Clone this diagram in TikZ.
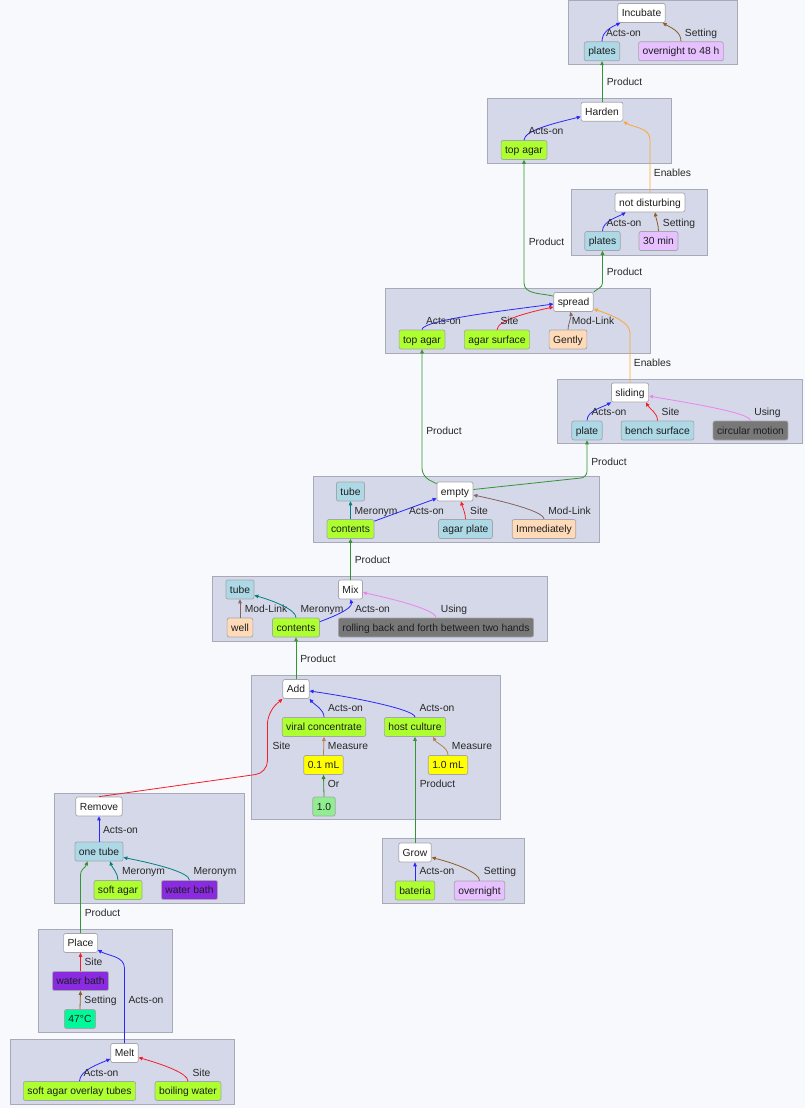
\documentclass[tikz,border=0pt]{standalone}
\usepackage{fontspec}
\setmainfont{Liberation Sans}
\usetikzlibrary{arrows.meta}
\definecolor{pagebg}{RGB}{248,249,252}
\definecolor{panfill}{RGB}{213,216,232}
\definecolor{panline}{RGB}{168,170,184}
\definecolor{nodeline}{RGB}{165,165,172}
\definecolor{lblc}{RGB}{40,40,40}
\definecolor{ntext}{RGB}{30,30,30}
\definecolor{cgy}{RGB}{173,255,47}
\definecolor{clb}{RGB}{173,216,230}
\definecolor{clav}{RGB}{230,192,255}
\definecolor{cpeach}{RGB}{255,218,185}
\definecolor{cdgray}{RGB}{120,120,120}
\definecolor{cyel}{RGB}{255,255,0}
\definecolor{clgr}{RGB}{144,238,144}
\definecolor{cviol}{RGB}{138,43,226}
\definecolor{cspring}{RGB}{0,250,154}
\definecolor{eacts}{RGB}{40,40,250}
\definecolor{esite}{RGB}{245,30,40}
\definecolor{eset}{RGB}{140,95,40}
\definecolor{eprod}{RGB}{50,150,50}
\definecolor{eenab}{RGB}{255,165,50}
\definecolor{emod}{RGB}{130,100,100}
\definecolor{emer}{RGB}{0,128,128}
\definecolor{euse}{RGB}{238,130,238}
\definecolor{emeas}{RGB}{180,130,80}
\definecolor{eor}{RGB}{40,140,40}
\newcommand{\nfont}{\fontsize{10.3}{12}\selectfont}
\tikzset{
  ent/.style={draw=nodeline, rounded corners=2pt, inner xsep=4pt, inner ysep=0pt, text=ntext,
              minimum height=19pt, text height=7.4pt, text depth=0pt, font=\nfont, line width=0.7pt},
  evt/.style={ent, fill=white},
  ygr/.style={ent, fill=cgy},
  lblue/.style={ent, fill=clb},
  lav/.style={ent, fill=clav},
  pch/.style={ent, fill=cpeach},
  dgr/.style={ent, fill=cdgray},
  yel/.style={ent, fill=cyel},
  lgr/.style={ent, fill=clgr},
  bvi/.style={ent, fill=cviol},
  spg/.style={ent, fill=cspring},
  pan/.style={draw=panline, fill=panfill, line width=0.8pt},
  rel/.style={-{Triangle[length=4pt,width=3.6pt]}, line width=0.8pt},
  actsarr/.style={rel, eacts},
  sitearr/.style={rel, esite},
  setarr/.style={rel, eset},
  prodarr/.style={rel, eprod},
  enarr/.style={rel, eenab},
  modarr/.style={rel, emod},
  merarr/.style={rel, emer},
  usearr/.style={rel, euse},
  measarr/.style={rel, emeas},
  orarr/.style={rel, eor},
  lbl/.style={font=\nfont, text=lblc, inner sep=0pt, text height=7.4pt, text depth=0pt},
}

\begin{document}
\begin{tikzpicture}[x=1pt, y=1pt]
    \fill[pagebg] (0,0) rectangle (805,-1108);
    \useasboundingbox (0,0) rectangle (805,-1108);
    % panels
    \draw[pan] (568,0) rectangle (737,-64);
    \draw[pan] (487,-98) rectangle (671,-163);
    \draw[pan] (571,-189) rectangle (707,-255);
    \draw[pan] (385,-288) rectangle (650,-353);
    \draw[pan] (557,-379) rectangle (802,-443);
    \draw[pan] (313,-476) rectangle (599,-542);
    \draw[pan] (212,-576) rectangle (547,-641);
    \draw[pan] (251,-675) rectangle (500,-819);
    \draw[pan] (382,-838) rectangle (524,-903);
    \draw[pan] (54,-793) rectangle (244,-903);
    \draw[pan] (38,-929) rectangle (172,-1032);
    \draw[pan] (10,-1039) rectangle (234,-1104);
    % nodes
    \node[evt] (incubate) at (641.5,-13) {Incubate};
    \node[lblue] (platesi) at (602,-51.3) {plates};
    \node[lav] (overnightl) at (681,-51.3) {overnight to 48 h};
    \node[evt] (harden) at (602,-111.7) {Harden};
    \node[ygr] (topagarh) at (524,-150) {top agar};
    \node[evt] (notdist) at (650,-202.5) {not disturbing};
    \node[lblue] (platesn) at (602.5,-241) {plates};
    \node[lav] (thirtymin) at (658.5,-241) {30 min};
    \node[evt] (spread) at (573.5,-302) {spread};
    \node[ygr] (topagars) at (422,-339.5) {top agar};
    \node[ygr] (agarsurf) at (497,-339.5) {agar surface};
    \node[pch] (gently) at (568,-339.5) {Gently};
    \node[evt] (sliding) at (630,-392.5) {sliding};
    \node[lblue] (plate) at (587,-430.5) {plate};
    \node[lblue] (bench) at (657.5,-430.5) {bench surface};
    \node[dgr] (circmot) at (750.5,-430.5) {circular motion};
    \node[evt] (empty) at (455,-491.5) {empty};
    \node[lblue] (tubee) at (350.5,-491.5) {tube};
    \node[ygr] (contentse) at (350.5,-529) {contents};
    \node[lblue] (agarplate) at (465.5,-529) {agar plate};
    \node[pch] (immed) at (544,-529) {Immediately};
    \node[evt] (mix) at (350.5,-589.5) {Mix};
    \node[lblue] (tubem) at (240,-589.5) {tube};
    \node[pch] (well) at (240,-627.5) {well};
    \node[ygr] (contentsm) at (296,-627.5) {contents};
    \node[dgr] (rolling) at (436,-627.5) {rolling back and forth between two hands};
    \node[evt] (add) at (296,-689) {Add};
    \node[ygr] (viral) at (324,-727) {viral concentrate};
    \node[ygr] (host) at (415,-727) {host culture};
    \node[yel] (pointone) at (323.5,-765) {0.1 mL};
    \node[yel] (onemil) at (448,-765) {1.0 mL};
    \node[lgr] (onezero) at (324,-806.5) {1.0};
    \node[evt] (grow) at (415,-852.5) {Grow};
    \node[ygr] (bateria) at (415,-890.5) {bateria};
    \node[lav] (overnightg) at (479.5,-890.5) {overnight};
    \node[evt] (remove) at (99,-806.5) {Remove};
    \node[lblue] (onetube) at (99,-851.5) {one tube};
    \node[ygr] (softagar) at (118,-890) {soft agar};
    \node[bvi] (wbathr) at (189.5,-890) {water bath};
    \node[evt] (place) at (80.5,-943) {Place};
    \node[bvi] (wbathp) at (80.5,-981) {water bath};
    \node[spg] (fortyseven) at (80,-1019) {47°C};
    \node[evt] (melt) at (124.5,-1053) {Melt};
    \node[ygr] (overlay) at (79.5,-1091) {soft agar overlay tubes};
    \node[ygr] (boiling) at (188,-1091) {boiling water};
    % connectors
    \draw[actsarr] (platesi.north) to[out=90,in=205,distance=10pt] ([xshift=3pt]incubate.south west) node[lbl] at (623.5,-33) {Acts-on};
    \draw[setarr] (overnightl.north) to[out=90,in=-30,distance=10pt] ([xshift=-3pt]incubate.south east) node[lbl] at (701,-33) {Setting};
    \draw[prodarr] (harden.north) -- (platesi.south) node[lbl] at (624.5,-82) {Product};
    \draw[actsarr] (topagarh.north) to[out=90,in=194,out distance=10pt,in distance=25pt] ([yshift=-5pt]harden.west) node[lbl] at (546,-131) {Acts-on};
    \draw[enarr] (notdist.north) -- ++(0,53) to[out=90,in=-30,distance=12pt] (harden.south east) node[lbl] at (672.5,-173) {Enables};
    \draw[actsarr] (platesn.north) to[out=90,in=210,distance=10pt] ([xshift=11pt]notdist.south west) node[lbl] at (624,-223) {Acts-on};
    \draw[setarr] (thirtymin.north) to[out=90,in=-80,distance=6pt] ([xshift=5pt]notdist.south) node[lbl] at (679,-223) {Setting};
    \draw[prodarr] (spread.north east) to[out=45,in=-90,distance=5pt] ([yshift=-32pt]platesn.south) -- (platesn.south) node[lbl] at (624.5,-272) {Product};
    \draw[prodarr] ([yshift=-4pt]spread.north west) to[out=165,in=-90,distance=12pt] ([yshift=-123pt]topagarh.south) -- (topagarh.south) node[lbl] at (546.5,-242) {Product};
    \draw[actsarr] (topagars.north) to[out=90,in=188,out distance=10pt,in distance=40pt] ([yshift=-2pt]spread.west) node[lbl] at (443.5,-321) {Acts-on};
    \draw[sitearr] (agarsurf.north) to[out=90,in=192,out distance=10pt,in distance=20pt] ([yshift=-5pt]spread.west) node[lbl] at (509.5,-321) {Site};
    \draw[modarr] (gently.north) to[out=90,in=-80,distance=5pt] ([xshift=-3pt]spread.south) node[lbl] at (593,-321) {Mod-Link};
    \draw[enarr] (sliding.north) -- ++(0,50) to[out=90,in=-20,distance=12pt] ([yshift=3pt]spread.south east) node[lbl] at (652.5,-363) {Enables};
    \draw[actsarr] (plate.north) to[out=90,in=210,distance=10pt] (sliding.south west) node[lbl] at (609,-412) {Acts-on};
    \draw[sitearr] (bench.north) to[out=90,in=-60,distance=8pt] ([xshift=-3pt]sliding.south east) node[lbl] at (670.5,-412) {Site};
    \draw[usearr] (circmot.north) to[out=90,in=-10,out distance=8pt,in distance=40pt] ([yshift=-3.5pt]sliding.east) node[lbl] at (767.5,-412) {Using};
    \draw[prodarr, rounded corners=6pt] ([yshift=2pt]empty.east) -- ([yshift=-37pt]plate.south) -- (plate.south) node[lbl] at (609,-462) {Product};
    \draw[prodarr, rounded corners=8pt] ([yshift=-2pt]empty.north west) -- ([yshift=-127pt]topagars.south) -- (topagars.south) node[lbl] at (444,-431) {Product};
    \draw[merarr] (contentse.north) -- (tubee.south) node[lbl] at (376,-511) {Meronym};
    \draw[actsarr] ([yshift=-2pt]contentse.north east) -- ([yshift=3pt]empty.south west) node[lbl] at (426.5,-511) {Acts-on};
    \draw[sitearr] (agarplate.north) to[out=90,in=-75,distance=6pt] ([xshift=6pt]empty.south) node[lbl] at (479,-511) {Site};
    \draw[modarr] (immed.north) to[out=90,in=-12,out distance=8pt,in distance=30pt] ([yshift=-3.5pt]empty.east) node[lbl] at (569.5,-511) {Mod-Link};
    \draw[prodarr] (mix.north) -- (contentse.south) node[lbl] at (372.5,-560) {Product};
    \draw[modarr] (well.north) -- (tubem.south) node[lbl] at (266,-609) {Mod-Link};
    \draw[merarr] (contentsm.north) to[out=90,in=-16,out distance=8pt,in distance=20pt] ([yshift=4pt]tubem.south east) node[lbl] at (322,-609) {Meronym};
    \draw[actsarr] ([yshift=-4pt]contentsm.north east) to[out=20,in=-75,distance=10pt] (mix.south) node[lbl] at (372.5,-609) {Acts-on};
    \draw[usearr] (rolling.north) to[out=90,in=-12,out distance=8pt,in distance=30pt] ([yshift=-3pt]mix.east) node[lbl] at (454,-609) {Using};
    \draw[prodarr] (add.north) -- (contentsm.south) node[lbl] at (318,-659) {Product};
    \draw[actsarr] (viral.north) to[out=90,in=-50,distance=8pt] (add.south east) node[lbl] at (345.5,-708) {Acts-on};
    \draw[actsarr] (host.north) to[out=90,in=-8,out distance=8pt,in distance=40pt] ([yshift=-2pt]add.east) node[lbl] at (437,-708) {Acts-on};
    \draw[measarr] (pointone.north) -- (viral.south) node[lbl] at (348,-746) {Measure};
    \draw[measarr] (onemil.north) to[out=90,in=-60,distance=8pt] ([xshift=18pt]host.south) node[lbl] at (472,-746) {Measure};
    \draw[orarr] (onezero.north) -- (pointone.south) node[lbl] at (333.5,-784) {Or};
    \draw[sitearr, rounded corners=12pt] (remove.north) -- ([xshift=-15pt,yshift=-74pt]add.south west) -- ([xshift=-15pt,yshift=-13pt]add.south west) -- (add.south west) node[lbl] at (281.5,-746) {Site};
    \draw[prodarr] (grow.north) -- (host.south) node[lbl] at (437.5,-784) {Product};
    \draw[actsarr] (bateria.north) -- (grow.south) node[lbl] at (437,-871) {Acts-on};
    \draw[setarr] (overnightg.north) to[out=90,in=-14,out distance=8pt,in distance=25pt] ([yshift=-5pt]grow.east) node[lbl] at (500,-871) {Setting};
    \draw[actsarr] (onetube.north) -- (remove.south) node[lbl] at (120.5,-830) {Acts-on};
    \draw[merarr] (softagar.north) to[out=90,in=-70,distance=7pt] ([xshift=11pt]onetube.south) node[lbl] at (143.5,-871) {Meronym};
    \draw[merarr] (wbathr.north) to[out=90,in=-11,out distance=8pt,in distance=30pt] ([yshift=-6pt]onetube.east) node[lbl] at (215,-871) {Meronym};
    \draw[prodarr] (place.north) -- ++(0,57) to[out=90,in=-110,distance=8pt] ([xshift=13pt]onetube.south west) node[lbl] at (102.5,-913) {Product};
    \draw[sitearr] (wbathp.north) -- (place.south) node[lbl] at (93.5,-962) {Site};
    \draw[setarr] (fortyseven.north) -- (wbathp.south) node[lbl] at (100.5,-1000) {Setting};
    \draw[actsarr] (melt.north) -- ++(0,75) to[out=90,in=-30,distance=12pt] ([yshift=3pt]place.south east) node[lbl] at (146,-1000) {Acts-on};
    \draw[actsarr] (overlay.north) to[out=90,in=204,distance=11pt] ([yshift=4pt]melt.south west) node[lbl] at (101,-1073) {Acts-on};
    \draw[sitearr] (boiling.north) to[out=90,in=-16,out distance=8pt,in distance=25pt] ([yshift=-4.5pt]melt.east) node[lbl] at (201.5,-1073) {Site};
\end{tikzpicture}
\end{document}
